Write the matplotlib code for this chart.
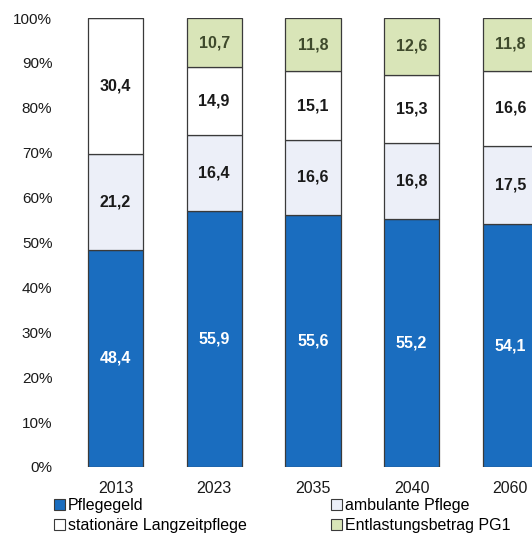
import matplotlib
matplotlib.use("Agg")
import matplotlib.pyplot as plt
from matplotlib.patches import Patch
import numpy as np

plt.rcParams['font.family'] = ['Liberation Sans', 'DejaVu Sans']

years = ["2013", "2023", "2035", "2040", "2060"]
pflegegeld = [48.4, 55.9, 55.6, 55.2, 54.1]
ambulant = [21.2, 16.4, 16.6, 16.8, 17.5]
stationaer = [30.4, 14.9, 15.1, 15.3, 16.6]
entlastung = [0.0, 10.7, 11.8, 12.6, 11.8]
series_names = ["Pflegegeld", "ambulante Pflege", "stationäre Langzeitpflege", "Entlastungsbetrag PG1"]
yticks = [0, 10, 20, 30, 40, 50, 60, 70, 80, 90, 100]

colors = ["#1a6dbf", "#eceff8", "#ffffff", "#d9e5b8"]
label_colors = ["white", "#1a1a1a", "#1a1a1a", "#3f4a2c"]

fig = plt.figure(figsize=(5.32, 5.33), dpi=100)
ax = fig.add_axes([60/532, 1 - 467/533, 1 - 60/532, (467 - 18)/533])

data = np.array([pflegegeld, ambulant, stationaer, entlastung])
totals = data.sum(axis=0)
shares = data / totals * 100
x = np.arange(len(years))
bottom = np.zeros(len(years))
for i in range(4):
    ax.bar(x, shares[i], bottom=bottom, width=0.56, color=colors[i],
           edgecolor="#3a3a3a", linewidth=0.9)
    for j in range(len(years)):
        if data[i, j] > 0:
            ax.text(x[j], bottom[j] + shares[i, j] / 2, f"{data[i, j]:.1f}".replace('.', ','),
                    ha='center', va='center', fontsize=11.5, fontweight='bold',
                    color=label_colors[i])
    bottom += shares[i]

ax.set_xlim(-0.562, 4.22)
ax.set_ylim(0, 100)
ax.set_yticks(yticks)
ax.set_yticklabels([f"{t}%" for t in yticks], fontsize=11, color="#1a1a1a")
ax.set_xticks(x)
ax.set_xticklabels(years, fontsize=11.5, color="#1a1a1a")
ax.tick_params(length=0)
ax.tick_params(axis='y', pad=5.5)
ax.tick_params(axis='x', pad=10)
for s in ax.spines.values():
    s.set_visible(False)

handles = [Patch(facecolor=colors[i], edgecolor="#3a3a3a", linewidth=0.8) for i in range(4)]
order = [0, 2, 1, 3]
fig.legend([handles[i] for i in order], [series_names[i] for i in order],
           ncol=2, loc='upper left', bbox_to_anchor=(54/532, 1 - 498/533),
           frameon=False, fontsize=11.5, handlelength=0.7, handleheight=0.7,
           handletextpad=0.15, columnspacing=5.3, labelspacing=0.3,
           borderaxespad=0, borderpad=0)

fig.savefig("out.png", dpi=100)
